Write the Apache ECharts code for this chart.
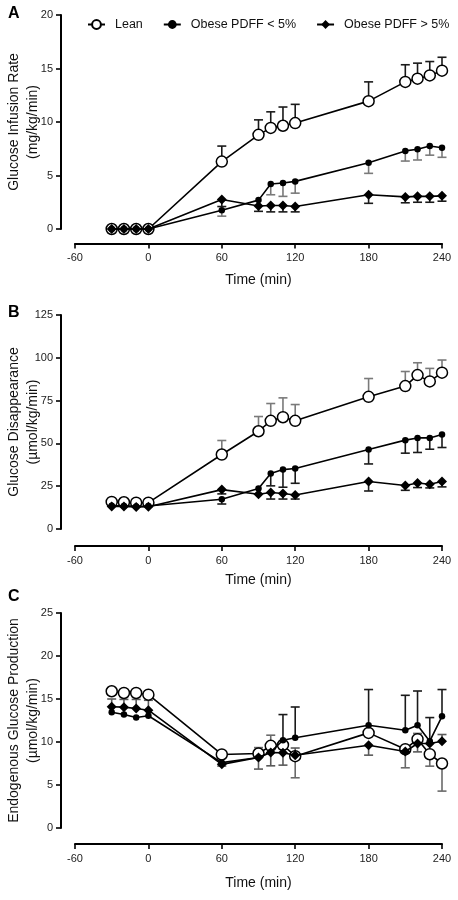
<!DOCTYPE html>
<html>
<head>
<meta charset="utf-8">
<script src="https://cdn.jsdelivr.net/npm/echarts@6/dist/echarts.min.js"></script>
<style>
html,body{margin:0;padding:0;background:#fff;}
#chart{width:458px;height:900px;}
</style>
</head>
<body>
<div id="chart"></div>
<script>
// ---- Data ----
const time = [-30, -20, -10, 0, 60, 90, 100, 110, 120, 180, 210, 220, 230, 240];
const seriesNames = ['Lean', 'Obese PDFF < 5%', 'Obese PDFF > 5%'];
const xTicks = [-60, 0, 60, 120, 180, 240];

// Panel A: Glucose Infusion Rate (mg/kg/min)
const leanA = [0, 0, 0, 0, 6.3, 8.8, 9.45, 9.65, 9.9, 11.95, 13.75, 14.05, 14.35, 14.8];
const leanAErr = [null, null, null, null, 7.75, 10.2, 10.95, 11.4, 11.65, 13.75, 15.35, 15.5, 15.65, 16.05];
const lowA = [0, 0, 0, 0, 1.75, 2.7, 4.2, 4.3, 4.45, 6.2, 7.3, 7.45, 7.75, 7.6];
const lowAErr = [null, null, null, null, 1.2, null, 3.2, 3.05, 3.35, 5.2, 6.35, 6.45, 6.9, 6.7];
const highA = [0, 0, 0, 0, 2.75, 2.15, 2.2, 2.2, 2.1, 3.2, 3.0, 3.05, 3.05, 3.1];
const highAErr = [null, null, null, null, 2.1, 1.65, 1.6, 1.6, 1.6, 2.4, 2.45, 2.5, 2.5, 2.6];

// Panel B: Glucose Disappearance (µmol/kg/min)
const leanB = [15.8, 15.6, 15.4, 15.4, 43.5, 57.1, 63.2, 65.3, 63.2, 77.2, 83.5, 89.9, 86.2, 91.3];
const leanBErr = [null, null, null, null, 51.7, 65.7, 73.3, 76.6, 72.7, 87.9, 92, 97.1, 93.8, 98.7];
const lowB = [13.6, 13.5, 13.2, 13.4, 17.4, 23.6, 32.4, 34.7, 35.3, 46.4, 51.9, 53.2, 53.2, 55.2];
const lowBErr = [null, null, null, null, 14.6, null, 25.2, 24.4, 26.7, 38.0, 44.3, 44.7, 46.6, 47.6];
const highB = [13.2, 13.1, 12.9, 13.0, 23.0, 20.3, 21.3, 20.7, 19.9, 27.7, 25.4, 26.9, 26.1, 27.7];
const highBErr = [null, null, null, null, 20.5, null, 17.5, 17.5, 17.5, 22.2, 22.6, 24.2, 24.0, 24.6];

// Panel C: Endogenous Glucose Production (µmol/kg/min)
const leanC = [15.9, 15.7, 15.7, 15.5, 8.55, 8.66, 9.55, 9.65, 8.35, 11.06, 9.16, 10.33, 8.58, 7.5];
const leanCErr = [null, null, null, null, null, 9.35, 10.79, null, 5.84, null, 7.0, 11.0, 7.19, 4.29];
const lowC = [13.45, 13.2, 12.85, 13.05, 7.6, 8.2, 8.85, 10.2, 10.5, 11.95, 11.37, 11.95, 10.09, 12.99];
const lowCErr = [null, null, null, null, null, null, null, 13.19, 14.07, 16.1, 15.43, 15.93, 12.84, 16.1];
const highC = [14.1, 14.05, 13.9, 13.7, 7.4, 8.2, 8.78, 8.75, 8.45, 9.63, 8.9, 9.83, 9.82, 10.09];
const highCErr = [15.0, 14.95, 14.95, 14.85, 7.2, 6.85, 7.23, 7.31, 9.3, 8.47, null, 8.85, null, 10.87];

const yTitles = [
  'Glucose Infusion Rate\n(mg/kg/min)',
  'Glucose Disappearance\n(µmol/kg/min)',
  'Endogenous Glucose Production\n(µmol/kg/min)'
];
const yMax = [20, 125, 25];
const yStep = [5, 25, 5];
const panelLetters = ['A', 'B', 'C'];

// ---- Layout / style ----
const FONT = '"Liberation Sans", Arial, Helvetica, sans-serif';
const grids = [
  { left: 75, width: 367, top: 15, height: 214, outerBoundsMode: 'none', containLabel: false },
  { left: 75, width: 367, top: 315, height: 214, outerBoundsMode: 'none', containLabel: false },
  { left: 75, width: 367, top: 613, height: 215, outerBoundsMode: 'none', containLabel: false }
];
const xOffsets = [14.5, 17, 16];
const xNameGaps = [30, 27, 32];
const letterTops = [1, 300, 584];

const panelData = [
  [[leanA, leanAErr], [lowA, lowAErr], [highA, highAErr]],
  [[leanB, leanBErr], [lowB, lowBErr], [highB, highBErr]],
  [[leanC, leanCErr], [lowC, lowCErr], [highC, highCErr]]
];
const errColors = [
  ['#1a1a1a', '#7a7a7a', '#1a1a1a'],
  ['#7a7a7a', '#1a1a1a', '#1a1a1a'],
  ['#6a6a6a', '#1a1a1a', '#5a5a5a']
];
const symbolStyles = [
  { symbol: 'circle', symbolSize: 11, itemStyle: { color: '#fff', borderColor: '#000', borderWidth: 1.5 } },
  { symbol: 'circle', symbolSize: 6.5, itemStyle: { color: '#000', borderColor: '#000', borderWidth: 0 } },
  { symbol: 'diamond', symbolSize: 10, itemStyle: { color: '#000', borderColor: '#000', borderWidth: 0 } }
];

function errRender(params, api) {
  const x = api.value(0), v = api.value(1), e = api.value(2);
  const p0 = api.coord([x, v]);
  const p1 = api.coord([x, e]);
  const style = { stroke: api.visual('color'), lineWidth: 1.6, fill: null };
  return {
    type: 'group',
    children: [
      { type: 'line', shape: { x1: p0[0], y1: p0[1], x2: p1[0], y2: p1[1] }, style: style },
      { type: 'line', shape: { x1: p1[0] - 4.5, y1: p1[1], x2: p1[0] + 4.5, y2: p1[1] }, style: style }
    ]
  };
}

const xAxes = [], yAxes = [], series = [], titles = [];
for (let p = 0; p < 3; p++) {
  xAxes.push({
    type: 'value', gridIndex: p, min: -60, max: 240, interval: 60,
    offset: xOffsets[p],
    name: 'Time (min)', nameLocation: 'middle', nameGap: xNameGaps[p],
    nameMoveOverlap: false,
    nameTextStyle: { fontFamily: FONT, fontSize: 14, color: '#111' },
    axisLine: { show: true, onZero: false, lineStyle: { color: '#000', width: 2 } },
    axisTick: { show: true, length: 5, lineStyle: { color: '#000', width: 1.6 } },
    axisLabel: { fontFamily: FONT, fontSize: 11, color: '#222', margin: 9 },
    splitLine: { show: false }
  });
  yAxes.push({
    type: 'value', gridIndex: p, min: 0, max: yMax[p], interval: yStep[p],
    offset: 14,
    name: yTitles[p], nameLocation: 'middle', nameGap: 19, nameRotate: 90,
    nameMoveOverlap: false,
    nameTextStyle: { fontFamily: FONT, fontSize: 14, color: '#111', lineHeight: 18.5 },
    axisLine: { show: true, onZero: false, lineStyle: { color: '#000', width: 2 } },
    axisTick: { show: true, length: 5, lineStyle: { color: '#000', width: 1.6 } },
    axisLabel: { fontFamily: FONT, fontSize: 11, color: '#222', margin: 8 },
    splitLine: { show: false }
  });
  titles.push({
    text: panelLetters[p], left: 3, top: letterTops[p],
    textStyle: { fontFamily: FONT, fontSize: 16, fontWeight: 'bold', color: '#000' }
  });
  for (let s = 0; s < 3; s++) {
    const vals = panelData[p][s][0];
    const errs = panelData[p][s][1];
    const errData = [];
    for (let i = 0; i < time.length; i++) {
      if (errs[i] !== null) errData.push([time[i], vals[i], errs[i]]);
    }
    series.push({
      name: 'err-' + p + '-' + s,
      type: 'custom',
      xAxisIndex: p, yAxisIndex: p,
      renderItem: errRender,
      encode: { x: 0, y: [1, 2] },
      itemStyle: { color: errColors[p][s] },
      data: errData,
      clip: false,
      z: 1,
      silent: true
    });
  }
  for (let s = 0; s < 3; s++) {
    const vals = panelData[p][s][0];
    series.push(Object.assign({
      name: seriesNames[s],
      type: 'line',
      xAxisIndex: p, yAxisIndex: p,
      data: time.map((t, i) => [t, vals[i]]),
      showSymbol: true,
      lineStyle: { color: '#000', width: 1.6 },
      clip: false,
      z: 2 + s,
      silent: true
    }, JSON.parse(JSON.stringify(symbolStyles[s]))));
  }
}

const chart = echarts.init(document.getElementById('chart'), null, { renderer: 'canvas' });
chart.setOption({
  animation: false,
  backgroundColor: '#fff',
  title: titles,
  legend: {
    data: seriesNames,
    left: 82, top: 13,
    itemWidth: 17, itemHeight: 11, itemGap: 20,
    textStyle: { fontFamily: FONT, fontSize: 12.5, color: '#111', padding: [0, 0, 0, 5] }
  },
  grid: grids,
  xAxis: xAxes,
  yAxis: yAxes,
  series: series
});
</script>
</body>
</html>
